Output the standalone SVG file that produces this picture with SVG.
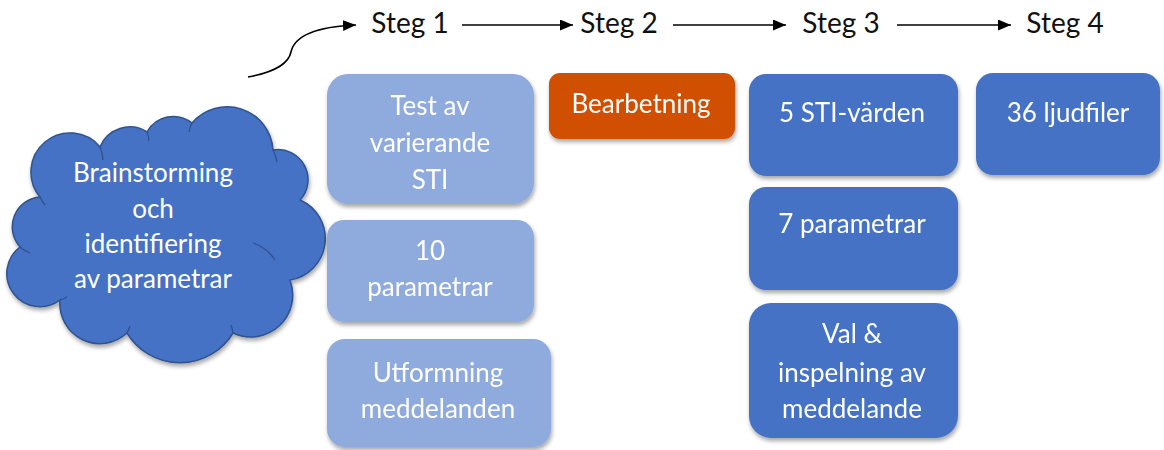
<svg xmlns="http://www.w3.org/2000/svg" width="1164" height="450" viewBox="0 0 1164 450">
<style>
.bg{fill:#ffffff}
.light{fill:#8FAADC}
.blue{fill:#4472C4}
.orange{fill:#D04F00}
.box{filter:url(#sh)}
.t{font-family:Lato,"Liberation Sans",sans-serif;font-size:26px;fill:#ffffff;text-anchor:middle}
.s{font-family:Lato,"Liberation Sans",sans-serif;font-size:28px;fill:#111111;text-anchor:middle}
.ln{fill:none;stroke:#000000;stroke-width:1.6;marker-end:url(#ah)}
.cloud{fill:#4472C4;stroke:#2F528F;stroke-width:1.5;filter:url(#sh)}
.crease{fill:none;stroke:#2F528F;stroke-width:1.3}
</style>
<defs>
<filter id="sh" x="-10%" y="-10%" width="130%" height="140%">
<feDropShadow dx="1" dy="3" stdDeviation="2.2" flood-color="#000000" flood-opacity="0.35"/>
</filter>
<marker id="ah" markerUnits="userSpaceOnUse" markerWidth="14" markerHeight="12" refX="13" refY="5.5" orient="auto">
<path d="M0,0 L13,5.5 L0,11 z" fill="#000000"/>
</marker>
</defs>
<rect class="bg" x="0" y="0" width="1164" height="450"/>

<g id="connectors">
<path class="ln" d="M248,77 C270,73 288,66 291,52 C294,38 310,27 356,25"/>
<line class="ln" x1="462" y1="25" x2="573" y2="25"/>
<line class="ln" x1="673" y1="25" x2="786" y2="25"/>
<line class="ln" x1="897" y1="25" x2="1011" y2="25"/>
</g>

<g id="steg1"><text class="s" x="410" y="33">Steg 1</text></g>
<g id="steg2"><text class="s" x="619" y="33">Steg 2</text></g>
<g id="steg3"><text class="s" x="841" y="33">Steg 3</text></g>
<g id="steg4"><text class="s" x="1065" y="33">Steg 4</text></g>

<g id="cloud">
<path class="cloud" d="M40,197 A34,34 0 0 1 100,147 A32,32 0 0 1 147,132 A30,30 0 0 1 192,123 A46,46 0 0 1 273,150 A30,30 0 0 1 300,200 A42,42 0 0 1 290,280 A42,42 0 0 1 233,333 A62,62 0 0 1 127,333 A40,40 0 0 1 60,300 A32,32 0 0 1 20,247 A30,30 0 0 1 40,197 z"/>
<path class="crease" d="M40,197 A30,30 0 0 0 45,205"/>
<path class="crease" d="M100,147 A34,34 0 0 1 103,160"/>
<path class="crease" d="M147,132 A32,32 0 0 1 149,141"/>
<path class="crease" d="M192,123 A30,30 0 0 0 189,132"/>
<path class="crease" d="M273,150 A46,46 0 0 1 277,162"/>
<path class="crease" d="M253,243 A42,42 0 0 1 275,260"/>
<path class="crease" d="M233,333 A42,42 0 0 0 231,325"/>
<path class="crease" d="M127,333 A62,62 0 0 0 130,326"/>
<path class="crease" d="M60,300 A40,40 0 0 0 67,297"/>
<path class="crease" d="M20,247 A32,32 0 0 0 30,253"/>
<text class="t" x="153" y="182">Brainstorming</text>
<text class="t" x="153" y="218">och</text>
<text class="t" x="153" y="253">identifiering</text>
<text class="t" x="153" y="288">av parametrar</text>
</g>

<g id="test-sti" class="box">
<rect class="light" x="327" y="74" width="207" height="130" rx="21"/>
<text class="t" x="430" y="115">Test av</text>
<text class="t" x="430" y="152">varierande</text>
<text class="t" x="430" y="189">STI</text>
</g>
<g id="tio-parametrar" class="box">
<rect class="light" x="327" y="220" width="207" height="102" rx="17"/>
<text class="t" x="430" y="260">10</text>
<text class="t" x="430" y="296">parametrar</text>
</g>
<g id="utformning" class="box">
<rect class="light" x="327" y="339" width="224" height="108" rx="18"/>
<text class="t" x="438" y="382">Utformning</text>
<text class="t" x="438" y="418">meddelanden</text>
</g>

<g id="bearbetning" class="box">
<rect class="orange" x="549" y="73" width="186" height="66" rx="11"/>
<text class="t" x="641" y="113">Bearbetning</text>
</g>

<g id="sti-varden" class="box">
<rect class="blue" x="749" y="74" width="209" height="102" rx="17"/>
<text class="t" x="852" y="122">5 STI-värden</text>
</g>
<g id="sju-parametrar" class="box">
<rect class="blue" x="749" y="187" width="209" height="103" rx="17"/>
<text class="t" x="852" y="233">7 parametrar</text>
</g>
<g id="val-inspelning" class="box">
<rect class="blue" x="749" y="303" width="209" height="135" rx="22"/>
<text class="t" x="852" y="343">Val &amp;</text>
<text class="t" x="852" y="382">inspelning av</text>
<text class="t" x="852" y="418">meddelande</text>
</g>

<g id="ljudfiler" class="box">
<rect class="blue" x="976" y="73" width="184" height="102" rx="17"/>
<text class="t" x="1068" y="122">36 ljudfiler</text>
</g>
</svg>
